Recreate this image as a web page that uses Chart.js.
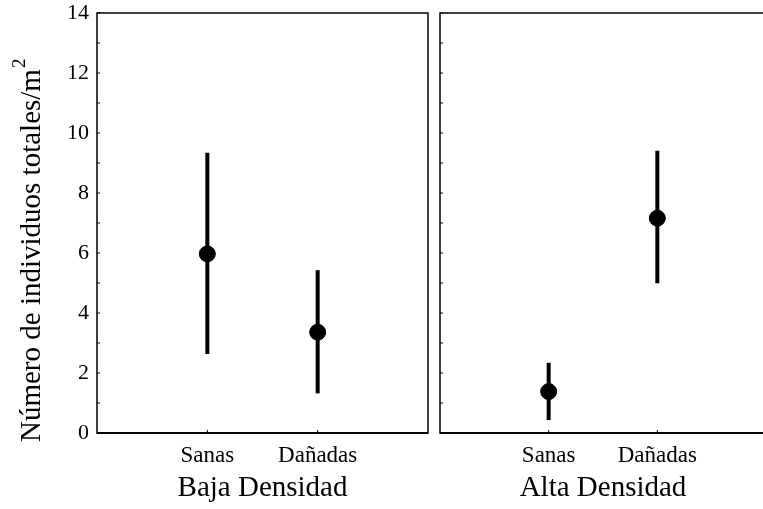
<!DOCTYPE html>
<html>
<head>
<meta charset="utf-8">
<script src="https://cdn.jsdelivr.net/npm/chart.js@4/dist/chart.umd.min.js"></script>
<style>
html,body{margin:0;padding:0;background:#fff;overflow:hidden;width:763px;height:509px;}
.wrap{position:absolute;top:0;height:509px;}
</style>
</head>
<body>
<div class="wrap" id="wl" style="left:0;width:440px;"><canvas id="cl"></canvas></div>
<div class="wrap" id="wr" style="left:430px;width:345px;"><canvas id="cr"></canvas></div>
<script>
const categories = ['Sanas', 'Dañadas'];
const groups = ['Baja Densidad', 'Alta Densidad'];
const yTitleMain = 'Número de individuos totales/m';
const yTitleSup = '2';
const yTicks = [0, 2, 4, 6, 8, 10, 12, 14];

const bajaMean = [5.97, 3.36];
const bajaLow  = [2.63, 1.32];
const bajaHigh = [9.34, 5.43];

const altaMean = [1.38, 7.16];
const altaLow  = [0.43, 4.99];
const altaHigh = [2.34, 9.41];

const serif = '"Liberation Serif", "Times New Roman", serif';

const framePlugin = {
  id: 'frame',
  afterDraw(chart) {
    const {ctx, chartArea: a, scales} = chart;
    ctx.save();
    ctx.strokeStyle = '#000';
    ctx.lineWidth = 1.5;
    ctx.strokeRect(a.left, a.top, a.right - a.left, a.bottom - a.top);
    ctx.lineWidth = 2;
    ctx.beginPath(); ctx.moveTo(a.left, a.bottom); ctx.lineTo(a.right, a.bottom); ctx.stroke();
    ctx.lineWidth = 1;
    const y = scales.y;
    for (let v = y.min; v <= y.max; v += 1) {
      const py = y.getPixelForValue(v);
      ctx.beginPath(); ctx.moveTo(a.left, py); ctx.lineTo(a.left + 3, py); ctx.stroke();
    }
    const x = scales.x;
    categories.forEach((c, i) => {
      const px = x.getPixelForValue(i + 1);
      ctx.beginPath(); ctx.moveTo(px, a.bottom); ctx.lineTo(px, a.bottom - 3); ctx.stroke();
    });
    ctx.restore();
  }
};

const yTitlePlugin = {
  id: 'ytitle',
  afterDraw(chart) {
    const ctx = chart.ctx;
    ctx.save();
    ctx.fillStyle = '#000';
    ctx.translate(40, 442);
    ctx.rotate(-Math.PI / 2);
    ctx.textBaseline = 'alphabetic';
    ctx.textAlign = 'left';
    ctx.font = '29px ' + serif;
    ctx.fillText(yTitleMain, 0, 0);
    const w = ctx.measureText(yTitleMain).width;
    ctx.font = '19px ' + serif;
    ctx.fillText(yTitleSup, w + 1, -15);
    ctx.restore();
  }
};

function makeChart(id, mean, low, high, group, showY) {
  const datasets = [];
  categories.forEach((c, i) => {
    datasets.push({
      type: 'line',
      data: [{x: i + 1, y: low[i]}, {x: i + 1, y: high[i]}],
      borderColor: '#000',
      borderWidth: 4,
      pointRadius: 0,
      borderCapStyle: 'butt',
      fill: false
    });
  });
  datasets.push({
    type: 'scatter',
    data: mean.map((m, i) => ({x: i + 1, y: m})),
    backgroundColor: '#000',
    borderColor: '#000',
    pointRadius: 8,
    pointHoverRadius: 8
  });
  return new Chart(document.getElementById(id), {
    type: 'scatter',
    data: {datasets},
    plugins: showY ? [framePlugin, yTitlePlugin] : [framePlugin],
    options: {
      responsive: true,
      maintainAspectRatio: false,
      animation: false,
      events: [],
      layout: {padding: showY ? {top: 13, right: 12, left: 0, bottom: 0} : {top: 13, right: 5, left: 10, bottom: 0}},
      plugins: {legend: {display: false}, tooltip: {enabled: false}},
      scales: {
        x: {
          type: 'linear',
          min: 0, max: 3,
          afterBuildTicks: s => { s.ticks = categories.map((c, i) => ({value: i + 1})); },
          afterFit: s => { s.height = 76; s.paddingLeft = 0; s.paddingRight = 0; },
          grid: {display: false, drawTicks: false},
          border: {display: false},
          ticks: {
            padding: 9,
            color: '#000',
            font: {family: serif, size: 23},
            callback: v => categories[v - 1]
          },
          title: {display: true, text: group, color: '#000', font: {family: serif, size: 29}, padding: {top: 0, bottom: 3}}
        },
        y: {
          min: 0, max: 14,
          afterBuildTicks: s => { s.ticks = yTicks.map(v => ({value: v})); },
          afterFit: s => { s.width = showY ? 97 : 0; s.paddingTop = 0; s.paddingBottom = 0; },
          grid: {display: false, drawTicks: false},
          border: {display: false},
          ticks: {
            display: showY,
            padding: 8,
            color: '#000',
            font: {family: serif, size: 22}
          }
        }
      }
    }
  });
}

makeChart('cl', bajaMean, bajaLow, bajaHigh, groups[0], true);
makeChart('cr', altaMean, altaLow, altaHigh, groups[1], false);
</script>
</body>
</html>
